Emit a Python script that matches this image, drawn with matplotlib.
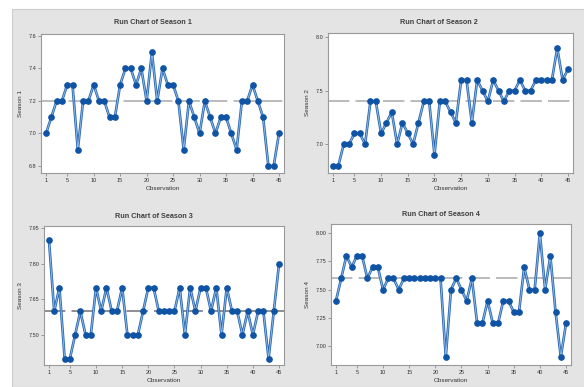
import matplotlib.pyplot as plt
import matplotlib.patheffects as pe
from matplotlib.patches import Rectangle
import numpy as np

plt.rcParams['font.family'] = ['Liberation Sans', 'DejaVu Sans']

obs = np.arange(1, 46)

season1 = [7.0, 7.1, 7.2, 7.2, 7.3, 7.3, 6.9, 7.2, 7.2, 7.3, 7.2, 7.2, 7.1, 7.1, 7.3,
           7.4, 7.4, 7.3, 7.4, 7.2, 7.5, 7.2, 7.4, 7.3, 7.3, 7.2, 6.9, 7.2, 7.1, 7.0,
           7.2, 7.1, 7.0, 7.1, 7.1, 7.0, 6.9, 7.2, 7.2, 7.3, 7.2, 7.1, 6.8, 6.8, 7.0]
season2 = [6.8, 6.8, 7.0, 7.0, 7.1, 7.1, 7.0, 7.4, 7.4, 7.1, 7.2, 7.3, 7.0, 7.2, 7.1,
           7.0, 7.2, 7.4, 7.4, 6.9, 7.4, 7.4, 7.3, 7.2, 7.6, 7.6, 7.2, 7.6, 7.5, 7.4,
           7.6, 7.5, 7.4, 7.5, 7.5, 7.6, 7.5, 7.5, 7.6, 7.6, 7.6, 7.6, 7.9, 7.6, 7.7]
season3 = [7.9, 7.6, 7.7, 7.4, 7.4, 7.5, 7.6, 7.5, 7.5, 7.7, 7.6, 7.7, 7.6, 7.6, 7.7,
           7.5, 7.5, 7.5, 7.6, 7.7, 7.7, 7.6, 7.6, 7.6, 7.6, 7.7, 7.5, 7.7, 7.6, 7.7,
           7.7, 7.6, 7.7, 7.5, 7.7, 7.6, 7.6, 7.5, 7.6, 7.5, 7.6, 7.6, 7.4, 7.6, 7.8]
season4 = [7.4, 7.6, 7.8, 7.7, 7.8, 7.8, 7.6, 7.7, 7.7, 7.5, 7.6, 7.6, 7.5, 7.6, 7.6,
           7.6, 7.6, 7.6, 7.6, 7.6, 7.6, 6.9, 7.5, 7.6, 7.5, 7.4, 7.6, 7.2, 7.2, 7.4,
           7.2, 7.2, 7.4, 7.4, 7.3, 7.3, 7.7, 7.5, 7.5, 8.0, 7.5, 7.8, 7.3, 6.9, 7.2]

x_ticks = [1, 5, 10, 15, 20, 25, 30, 35, 40, 45]

W, H = 584, 387
fig = plt.figure(figsize=(W / 100, H / 100), dpi=100)
fig.patch.set_facecolor('white')
fig.patches.append(Rectangle((12 / W, 0), 1, 1 - 9 / H, transform=fig.transFigure,
                             facecolor='#e4e4e4', edgecolor='#cdcdcd', lw=0.8, zorder=-10))

# panel boxes in pixels: left, top, right, bottom, title x, title y
panels = [
    (season1, 'Season 1', (41, 34, 284, 173), (153, 23), (6.757, 7.612), [6.8, 7.0, 7.2, 7.4, 7.6], '{:.1f}', '#a8a8a8'),
    (season2, 'Season 2', (328, 33, 573, 173), (439, 23), (6.73, 8.04), [7.0, 7.5, 8.0], '{:.1f}', '#a8a8a8'),
    (season3, 'Season 3', (44, 226, 284, 365), (154, 216), (7.373, 7.96), [7.50, 7.65, 7.80, 7.95], '{:.2f}', '#707070'),
    (season4, 'Season 4', (331, 224, 571, 365), (441, 215), (6.83, 8.083), [7.00, 7.25, 7.50, 7.75, 8.00], '{:.2f}', '#a8a8a8'),
]

for vals, name, (l, t, r, b), (tx, ty), ylim, yt, fmt, med_col in panels:
    ax = fig.add_axes([l / W, 1 - b / H, (r - l) / W, (b - t) / H])
    ax.set_facecolor('white')
    ax.axhline(np.median(vals), color=med_col, lw=1.1, dashes=(14, 4), zorder=1)
    ax.plot(obs, vals, color='#8bb8e6', lw=0.7, zorder=2,
            path_effects=[pe.Stroke(linewidth=1.9, foreground='#2a66b0'), pe.Normal()])
    ax.plot(obs, vals, 'o', color='#0f54a4', ms=3.8, mec='#0f54a4', zorder=3)
    ax.set_xlim(0.05, 45.95)
    ax.set_ylim(*ylim)
    ax.set_xticks(x_ticks)
    ax.set_xticklabels([str(v) for v in x_ticks])
    ax.set_yticks(yt)
    ax.set_yticklabels([fmt.format(v) for v in yt])
    ax.tick_params(length=2, width=0.6, color='#8a8a8a', labelsize=4, pad=1.5,
                   labelcolor='#333333')
    for s in ax.spines.values():
        s.set_color('#9a9a9a')
        s.set_linewidth(0.8)
    ax.set_xlabel('Observation', fontsize=4.6, color='#333333', labelpad=2.5)
    ax.set_ylabel(name, fontsize=4.6, color='#333333', labelpad=4)
    fig.text(tx / W, 1 - ty / H, 'Run Chart of ' + name, fontsize=5.2,
             fontweight='bold', color='#404040', ha='center', va='center')

fig.savefig('out.png', dpi=100)
